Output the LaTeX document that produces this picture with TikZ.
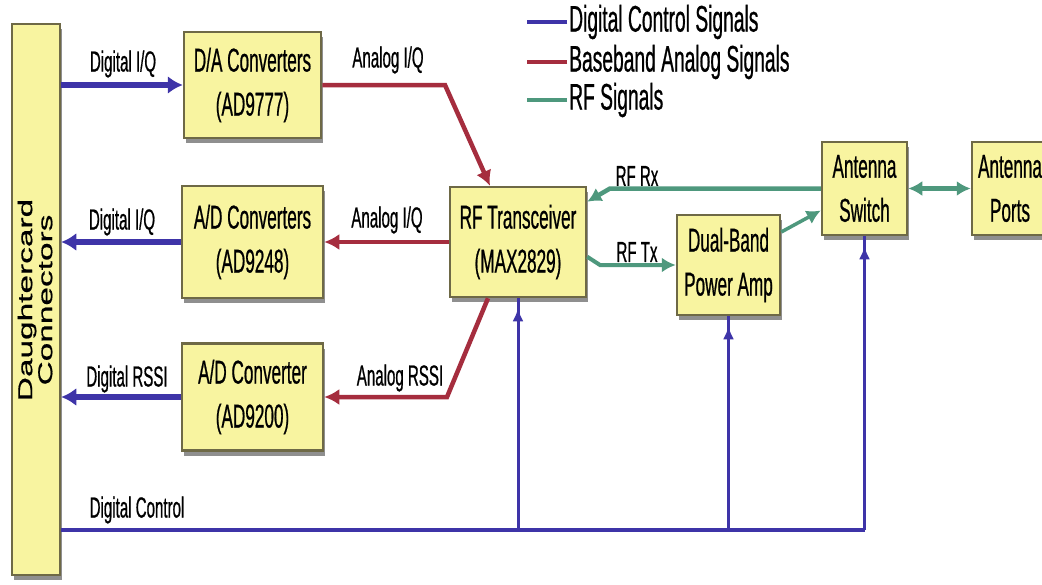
\documentclass[tikz,border=0pt]{standalone}
\usepackage{fontspec}
\setmainfont{Liberation Sans}
\newfontfamily\nf[FakeStretch=0.52,FakeBold=0.6]{Liberation Sans}
\newfontfamily\wf[FakeStretch=1.67,FakeBold=0.6]{Liberation Sans}
\usetikzlibrary{arrows.meta,shadows,calc,decorations.markings}
\definecolor{boxfill}{RGB}{248,244,160}
\definecolor{boxline}{RGB}{110,105,70}
\definecolor{dblue}{RGB}{62,52,168}
\definecolor{bred}{RGB}{165,45,62}
\definecolor{rfgreen}{RGB}{78,152,125}
\tikzset{
 box/.style={draw=boxline, line width=2.5pt, fill=boxfill,
   drop shadow={shadow xshift=2pt, shadow yshift=-5pt, fill=black!55, opacity=0.8},
   inner sep=0pt, align=center, font=\nf\fontsize{33}{44}\selectfont},
 lbl/.style={font=\nf\fontsize{29}{30}\selectfont, inner sep=0pt},
 leg/.style={font=\nf\fontsize{37}{40}\selectfont, inner sep=0pt, anchor=west},
 dig/.style={draw=dblue, line width=6pt, -{Latex[length=15pt,width=18pt]}},
 bus/.style={draw=dblue, line width=4pt},
 ctl/.style={draw=dblue, line width=3pt, postaction={decorate},
   decoration={markings, mark=at position -10pt with {\arrow{Latex[length=13pt,width=11pt]}}}},
 bb/.style={draw=bred, line width=4.5pt, -{Latex[length=15pt,width=16pt]}},
 rfl/.style={draw=rfgreen, line width=4.5pt, -{Latex[length=14pt,width=15pt]}},
}
\begin{document}
\begin{tikzpicture}[x=1pt,y=-1pt]
\useasboundingbox (0,0) rectangle (1042,584);
\clip (0,0) rectangle (1042,584);
\fill[white] (0,0) rectangle (1042,584);

% daughtercard bar
\node[box, minimum width=48pt, minimum height=551pt] (bar) at (36,299.5) {};
\node[font=\wf\fontsize{20}{20}\selectfont, rotate=90, align=center, inner sep=0pt] (barlbl) at (35,300) {Daughtercard\\Connectors};

% blocks
\node[box, minimum width=137pt, minimum height=106pt] (da) at (252.5,85) {D/A Converters\\(AD9777)};
\node[box, minimum width=141pt, minimum height=112pt] (adc) at (252.5,242) {A/D Converters\\(AD9248)};
\node[box, minimum width=141pt, minimum height=107pt] (adr) at (252.5,397) {A/D Converter\\(AD9200)};
\node[box, minimum width=136pt, minimum height=110pt] (rf) at (518,242) {RF Transceiver\\(MAX2829)};
\node[box, minimum width=103pt, minimum height=100pt] (pa) at (728.5,265) {Dual-Band\\Power Amp};
\node[box, minimum width=85pt, minimum height=93pt] (sw) at (864.5,188.5) {Antenna\\Switch};
\node[box, minimum width=76pt, minimum height=93pt] (ports) at (1010,188.5) {Antenna\\Ports};

% legend
\node[leg] (t1) at (569,22) {Digital Control Signals};
\node[leg] (t2) at (569,62) {Baseband Analog Signals};
\node[leg] (t3) at (569,100) {RF Signals};
\draw[dblue, line width=4pt] ($(t1.west)+(-2,0)$) -- ++(-40,0);
\draw[bred, line width=4pt] ($(t2.west)+(-2,0)$) -- ++(-40,0);
\draw[rfgreen, line width=4pt] ($(t3.west)+(-2,0)$) -- ++(-40,0);

% edge labels
\node[lbl] (l1) at (123,64) {Digital I/Q};
\node[lbl] (l2) at (388,60) {Analog I/Q};
\node[lbl] (l3) at (122,222) {Digital I/Q};
\node[lbl] (l4) at (387,220) {Analog I/Q};
\node[lbl] (l5) at (127,379) {Digital RSSI};
\node[lbl] (l6) at (400,378) {Analog RSSI};
\node[lbl] (l7) at (137,510) {Digital Control};
\node[lbl] (l8) at (637,176) {RF Rx};
\node[lbl] (l9) at (637,252) {RF Tx};

% digital connectors
\draw[dig] (bar.east |- da.west) -- (da.west);
\draw[dig] (adc.west) -- (bar.east |- adc.west);
\draw[dig] (adr.west) -- (bar.east |- adr.west);
\coordinate (busy) at (0,530);
\coordinate (busR) at (sw.south |- busy);
\draw[bus] (bar.east |- busy) -- (busR);
\draw[ctl] (rf.south |- busy) -- (rf.south);
\draw[ctl] (pa.south |- busy) -- (pa.south);
\draw[ctl] (busR) -- (sw.south);

% baseband analog connectors
\draw[bb] (da.east) -- (445,85) -- ($(rf.north)+(-28,0)$);
\draw[bb] (rf.west) -- (adc.east);
\draw[bb] ($(rf.south)+(-30,0)$) -- (447,397) -- (adr.east);

% RF connectors
\draw[rfl] (sw.west) -- (610,188.5) -- ($(rf.north east)+(0,16)$);
\draw[rfl, line width=4pt] ($(rf.north east)+(0,71)$) -- (600,265) -- (pa.west);
\draw[rfl, line width=3.5pt] ($(pa.east)+(0,-33)$) -- ($(sw.west)+(0,22)$);
\draw[rfl, {Latex[length=14pt,width=15pt]}-{Latex[length=14pt,width=15pt]}] (sw.east) -- (ports.west);
\end{tikzpicture}
\end{document}
